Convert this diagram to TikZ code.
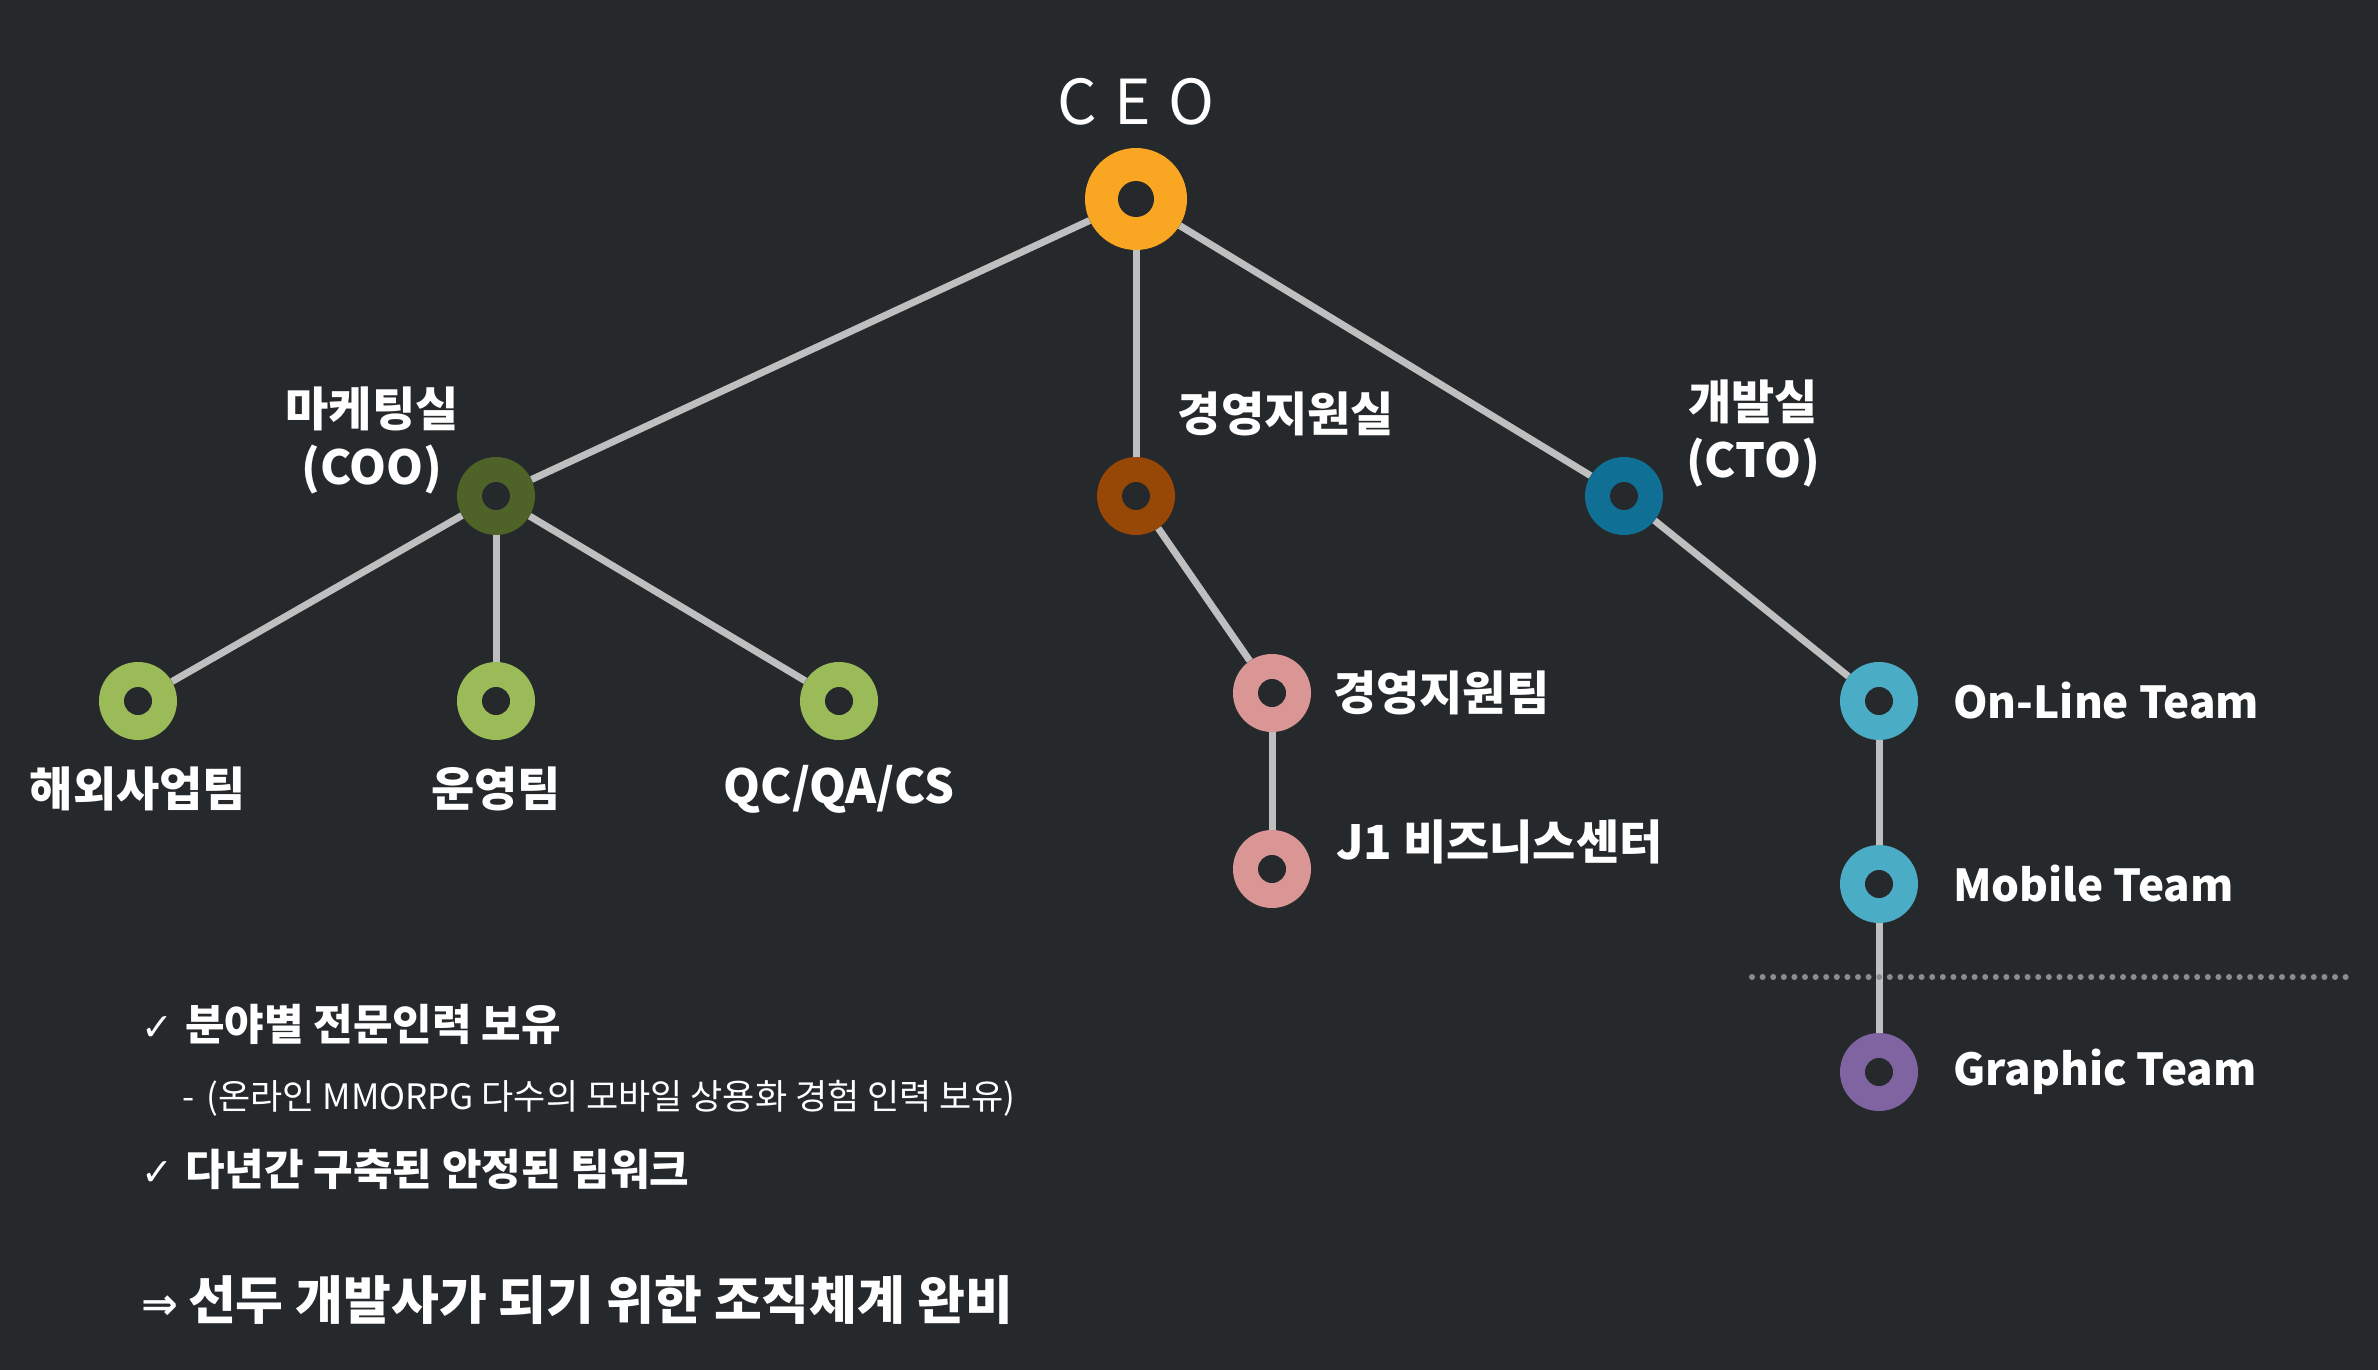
\documentclass[tikz,border=0pt]{standalone}
\usepackage{fontspec}
\setmainfont{Noto Sans CJK KR}
\newfontfamily\symfont{DejaVu Sans}
\definecolor{bgc}{HTML}{26292C}
\definecolor{linec}{HTML}{BFBFBF}
\definecolor{dotc}{HTML}{8C8C8C}
\definecolor{ceoc}{HTML}{F9A623}
\definecolor{cooc}{HTML}{4F6228}
\definecolor{mgc}{HTML}{974806}
\definecolor{ctoc}{HTML}{0F6F94}
\definecolor{grc}{HTML}{9BBB59}
\definecolor{pkc}{HTML}{D99694}
\definecolor{lbc}{HTML}{4BACC6}
\definecolor{puc}{HTML}{8064A2}
\tikzset{
  ring/.style={circle, minimum size=78pt, inner sep=0pt, fill=#1,
    path picture={\fill[bgc] (path picture bounding box.center) circle (14pt);}},
  bigring/.style={circle, minimum size=102pt, inner sep=0pt, fill=#1,
    path picture={\fill[bgc] (path picture bounding box.center) circle (18pt);}},
  lab/.style={text=white, inner sep=0pt, font=\bfseries\fontsize{44}{58}\selectfont},
  klab/.style={text=white, inner sep=0pt, font=\bfseries\fontsize{47}{58}\selectfont},
  conn/.style={draw=linec, line width=7pt},
  bul/.style={text=white, inner sep=0pt, anchor=west, font=\bfseries\fontsize{43}{50}\selectfont},
}
\begin{document}
\begin{tikzpicture}[x=1pt,y=-1pt]
\fill[bgc] (0,0) rectangle (2378,1370);
\useasboundingbox (0,0) rectangle (2378,1370);
% nodes
\node[bigring=ceoc] (ceo) at (1136,199) {};
\node[ring=cooc] (coo) at (496,496) {};
\node[ring=mgc] (mg) at (1136,496) {};
\node[ring=ctoc] (cto) at (1624,496) {};
\node[ring=grc] (g1) at (138,701) {};
\node[ring=grc] (g2) at (496,701) {};
\node[ring=grc] (g3) at (839,701) {};
\node[ring=pkc] (p1) at (1272,693) {};
\node[ring=pkc] (p2) at (1272,869) {};
\node[ring=lbc] (t1) at (1879,701) {};
\node[ring=lbc] (t2) at (1879,884) {};
\node[ring=puc] (t3) at (1879,1072) {};
% connectors
\draw[conn] (ceo) -- (coo);
\draw[conn] (ceo) -- (mg);
\draw[conn] (ceo) -- (cto);
\draw[conn] (coo) -- (g1);
\draw[conn] (coo) -- (g2);
\draw[conn] (coo) -- (g3);
\draw[conn] (mg) -- (p1);
\draw[conn] (p1) -- (p2);
\draw[conn] (cto) -- (t1);
\draw[conn] (t1) -- (t2);
\draw[conn] (t2) -- (t3);
% dotted separator
\coordinate (dl) at (1752,977);
\coordinate (dr) at (2354,977);
\draw[dotc, line width=6pt, line cap=round, dash pattern=on 0pt off 10.6pt] (dl) -- (dr);
% labels
\node[text=white, inner sep=0pt, font=\fontsize{62}{70}\selectfont] (ceol) at (1136,102) {C\hspace{4pt} E\hspace{4pt} O};
\node[klab, align=center] (cool) at (372,440) {마케팅실\\(COO)};
\node[klab] (mgl) at (1286,414) {경영지원실};
\node[klab, align=center] (ctol) at (1753,433) {개발실\\(CTO)};
\node[klab] (g1l) at (138,789) {해외사업팀};
\node[klab] (g2l) at (496,789) {운영팀};
\node[klab] (g3l) at (839,789) {QC/QA/CS};
\node[klab, anchor=west] (p1l) at (1333,693) {경영지원팀};
\node[klab, anchor=west] (p2l) at (1336,842) {J1 비즈니스센터};
\node[lab, anchor=west] (t1l) at (1953,701) {On-Line Team};
\node[lab, anchor=west] (t2l) at (1953,884) {Mobile Team};
\node[lab, anchor=west] (t3l) at (1953,1072) {Graphic Team};
% bottom text
\node[bul] (b1) at (141,1024) {{\symfont\mdseries\fontsize{38}{44}\selectfont ✓}\hspace{12pt}분야별 전문인력 보유};
\node[text=white, inner sep=0pt, anchor=west, font=\fontsize{35}{42}\selectfont] (b2) at (182,1098) {-\hspace{12pt}(온라인 MMORPG 다수의 모바일 상용화 경험 인력 보유)};
\node[bul] (b3) at (141,1169) {{\symfont\mdseries\fontsize{38}{44}\selectfont ✓}\hspace{12pt}다년간 구축된 안정된 팀워크};
\node[text=white, inner sep=0pt, anchor=west, font=\bfseries\fontsize{52}{60}\selectfont] (b4) at (141,1300) {{\symfont\fontsize{44}{50}\selectfont ⇒}\hspace{10pt}선두 개발사가 되기 위한 조직체계 완비};
\end{tikzpicture}
\end{document}
